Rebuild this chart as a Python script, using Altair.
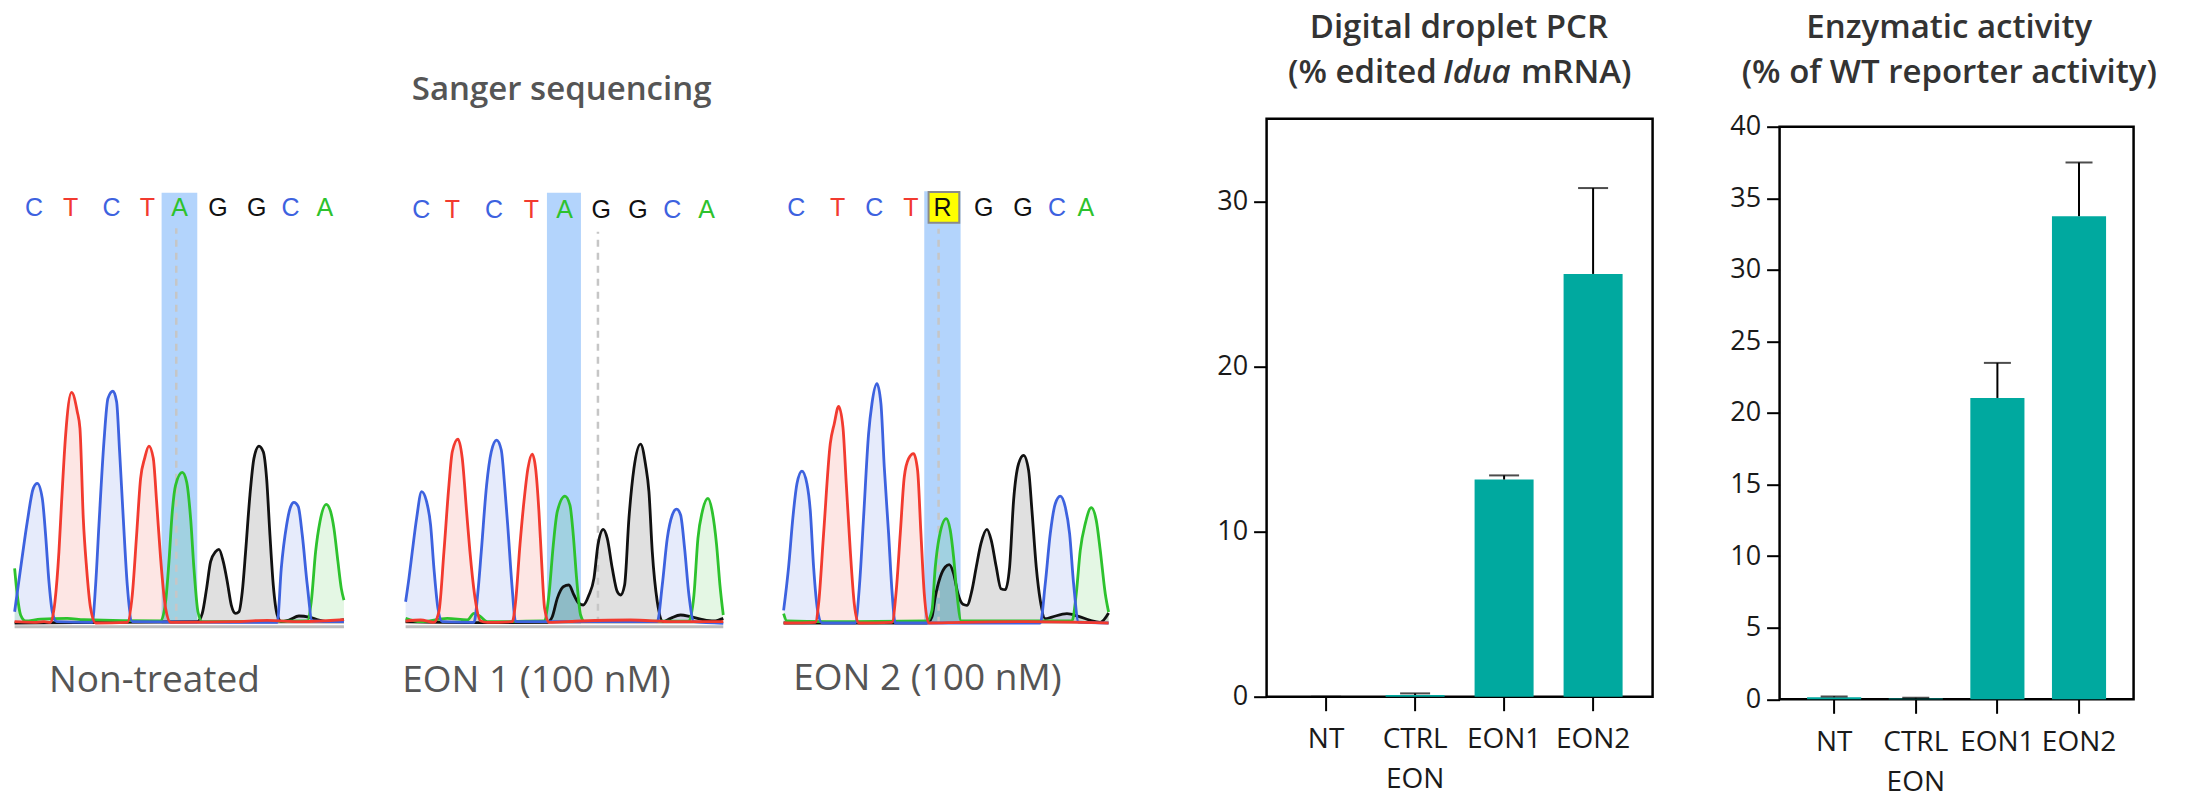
import altair as alt
import pandas as pd

# ---------------- bar chart data ----------------
CATS = ["NT", "CTRL EON", "EON1", "EON2"]
DDPCR_MEAN = [0.0, 0.1, 13.15, 25.6]
DDPCR_UPPER = [0.0, 0.2, 13.4, 30.8]
ENZ_MEAN = [0.15, 0.05, 21.05, 33.75]
ENZ_UPPER = [0.2, 0.1, 23.5, 37.5]
DDPCR_TICKS = [0, 10, 20, 30]
ENZ_TICKS = [0, 5, 10, 15, 20, 25, 30, 35, 40]

TITLE_DDPCR_1 = ["Digital droplet PCR"]
TITLE_DDPCR_2A = ["(% edited"]
TITLE_DDPCR_2B = ["Idua"]
TITLE_DDPCR_2C = ["mRNA)"]
TITLE_ENZ_1 = ["Enzymatic activity"]
TITLE_ENZ_2 = ["(% of WT reporter activity)"]
SANGER_TITLE = ["Sanger sequencing"]
CAPTIONS = ["Non-treated", "EON 1 (100 nM)", "EON 2 (100 nM)"]

# ---------------- chromatogram data (scan position, signal) ----------------
BASES = ["A", "C", "G", "T", "R"]
BASE_COLORS = ["#2DC22D", "#3D62DF", "#111111", "#F23A2F", "#111111"]

P1_A = [(0,166),(8,86),(18,26),(33,8),(78,14),(158,16),(208,12),(438,8),(453,66),(463,186),(473,336),(483,416),(503,454),(516,426),(528,316),(538,166),(550,36),(563,6),(878,8),(890,66),(903,216),(916,306),(935,358),(948,336),(958,286),(970,186),(980,106),(988,71)]
P1_C = [(0,36),(18,166),(38,306),(56,406),(68,421),(83,376),(93,266),(103,126),(113,36),(126,6),(233,4),(243,116),(253,296),(268,546),(280,676),(295,698),(306,666),(315,516),(326,316),(338,116),(353,6),(788,4),(800,166),(816,296),(828,351),(838,364),(851,351),(863,266),(878,116),(893,8),(988,6)]
P1_G = [(0,2),(548,6),(563,31),(576,106),(588,186),(603,216),(613,223),(626,186),(638,126),(650,56),(663,31),(673,36),(683,96),(693,216),(706,386),(718,496),(733,533),(746,516),(756,436),(766,266),(776,116),(788,26),(800,6),(823,11),(853,23),(883,20),(913,11),(948,6),(988,12)]
P1_T = [(0,6),(58,4),(88,6),(108,4),(121,66),(133,216),(141,366),(153,566),(171,694),(188,636),(196,586),(206,316),(216,166),(228,46),(243,2),(338,4),(353,86),(366,266),(378,436),(390,496),(403,533),(416,496),(426,366),(438,196),(453,46),(468,4),(658,6),(758,10),(858,6),(988,12)]

P2_A = [(0,16),(45,6),(125,16),(185,11),(205,31),(225,21),(245,6),(415,8),(430,86),(443,236),(455,336),(478,383),(493,356),(503,266),(513,136),(525,26),(537,6),(850,8),(865,86),(877,256),(890,336),(907,376),(920,336),(933,236),(943,116),(953,26)]
P2_C = [(0,66),(10,136),(20,216),(33,316),(48,396),(63,366),(75,296),(85,166),(97,46),(110,6),(205,4),(217,96),(227,216),(243,416),(257,516),(273,551),(287,521),(297,416),(307,286),(319,116),(330,6),(755,6),(770,116),(785,256),(800,326),(813,344),(825,326),(837,226),(850,86),(865,6),(953,1)]
P2_G = [(0,6),(225,3),(425,4),(440,21),(455,76),(473,111),(490,116),(505,86),(520,61),(533,56),(550,86),(565,136),(577,236),(593,283),(605,256),(620,166),(635,96),(645,86),(657,116),(670,316),(685,466),(705,539),(720,476),(730,396),(740,216),(755,66),(773,6),(795,16),(825,26),(855,21),(885,14),(925,8),(953,16)]
P2_T = [(0,8),(45,11),(85,4),(100,36),(115,216),(130,416),(140,516),(157,554),(170,496),(183,336),(193,216),(207,86),(225,8),(245,4),(320,6),(330,66),(343,236),(355,366),(367,466),(380,509),(390,466),(400,336),(408,186),(417,46),(430,4),(525,8),(675,11),(805,6),(953,6)]

P3_A = [(0,30),(10,8),(130,6),(430,8),(445,40),(455,170),(467,260),(488,315),(500,280),(510,200),(520,90),(533,8),(865,8),(878,90),(890,220),(905,300),(923,348),(938,310),(950,220),(965,90),(975,35)]
P3_C = [(0,40),(15,170),(28,320),(40,420),(55,458),(70,420),(80,340),(90,170),(102,40),(115,2),(215,2),(228,120),(240,320),(255,570),(265,660),(280,720),(292,660),(302,470),(315,270),(325,100),(335,2),(770,2),(785,120),(800,270),(815,360),(830,383),(845,350),(858,270),(870,120),(885,5),(975,2)]
P3_G = [(0,2),(430,2),(445,20),(455,80),(470,140),(485,170),(497,177),(510,150),(523,90),(538,58),(550,55),(565,100),(578,170),(592,240),(610,283),(623,250),(638,170),(652,105),(665,102),(678,170),(690,370),(705,480),(720,505),(735,460),(745,340),(758,170),(770,70),(785,15),(805,20),(850,30),(885,22),(920,10),(950,4),(975,32)]
P3_T = [(0,2),(95,4),(105,60),(120,270),(140,540),(152,600),(165,652),(178,590),(188,420),(200,220),(212,60),(225,2),(325,4),(338,100),(350,270),(362,440),(375,495),(390,510),(402,460),(412,270),(422,90),(435,2),(530,4),(730,6),(975,2)]

P1_SEQ = list("CTCTAGGCA")
P1_POS = [58, 168, 291, 398, 495, 610, 726, 828, 931]
P2_SEQ = list("CTCTAGGCA")
P2_POS = [47, 140, 265, 377, 477, 587, 697, 800, 903]
P3_SEQ = list("CTCTRGGCA")
P3_POS = [38, 162, 272, 382, 477, 600, 718, 820, 907]
SEQ_SIGNAL = [1246, 1241, 1248]

HIGHLIGHT = [(441, 548, 1293), (424, 526, 1293), (422, 531, 1297)]
DASHED = [(485, 1186), (577, 1176), (465, 1185)]
CAPTION_POS = [(103, -204), (-10, -204), (29, -200)]
BASELINE_END = [988, 953, None]
AMBIG_BOX = (435, 527, 1203, 1295)
SANGER_POS = (468, 1571)

PANEL_WIDTHS = [391, 378, 482.6]
PANEL_HEIGHT = 578
SIGNAL_DOMAIN = [-219, 1515]

FONT = "Open Sans"
TEAL = "#00A99F"


def trace_frame(traces):
    rows = []
    for base in ["G", "A", "C", "T"]:
        for x, s in traces[base]:
            rows.append({"x": x, "s": s, "base": base})
    return pd.DataFrame(rows)


def chromatogram(i, traces, seq, pos):
    width = PANEL_WIDTHS[i]
    xs = alt.Scale(domain=[0, width * 3], nice=False, zero=False)
    ys = alt.Scale(domain=SIGNAL_DOMAIN, nice=False, zero=False)
    cs = alt.Scale(domain=BASES, range=BASE_COLORS)
    X = lambda f: alt.X(f, scale=xs, axis=None, title=None)
    Y = lambda f: alt.Y(f, scale=ys, axis=None, title=None, stack=None)

    tdf = trace_frame(traces)
    hx1, hx2, htop = HIGHLIGHT[i]
    band = alt.Chart(pd.DataFrame({"x": [hx1], "xe": [hx2], "s": [0], "se": [htop]})).mark_rect(
        color="#B3D4FC").encode(x=X("x:Q"), x2="xe:Q", y=Y("s:Q"), y2="se:Q")
    layers = [band]
    if BASELINE_END[i] is not None:
        layers.append(alt.Chart(pd.DataFrame({"x": [0], "xe": [BASELINE_END[i]], "s": [-9]})).mark_rule(
            color="#BDBDBD", strokeWidth=3).encode(x=X("x:Q"), x2="xe:Q", y=Y("s:Q")))
    area = alt.Chart(tdf).mark_area(opacity=0.13, interpolate="monotone").encode(
        x=X("x:Q"), y=Y("s:Q"), y2=alt.datum(0),
        color=alt.Color("base:N", scale=cs, legend=None))
    dx, dtop = DASHED[i]
    dash = alt.Chart(pd.DataFrame({"x": [dx], "s": [0], "se": [dtop]})).mark_rule(
        color="#C6C6C6", strokeWidth=2.5, strokeDash=[7, 6]).encode(x=X("x:Q"), y=Y("s:Q"), y2="se:Q")
    line = alt.Chart(tdf).mark_line(strokeWidth=2.8, interpolate="monotone", strokeJoin="round").encode(
        x=X("x:Q"), y=Y("s:Q"), color=alt.Color("base:N", scale=cs, legend=None))
    layers += [area, dash, line]
    if i == 2:
        bx1, bx2, by1, by2 = AMBIG_BOX
        layers.append(alt.Chart(pd.DataFrame({"x": [bx1], "xe": [bx2], "s": [by1], "se": [by2]})).mark_rect(
            fill="#FFFF00", stroke="#8A8A8A", strokeWidth=2).encode(x=X("x:Q"), x2="xe:Q", y=Y("s:Q"), y2="se:Q"))
    letters = alt.Chart(pd.DataFrame({"x": pos, "s": [SEQ_SIGNAL[i]] * len(pos), "base": seq})).mark_text(
        font="Liberation Sans", fontSize=25, align="center", baseline="middle").encode(
        x=X("x:Q"), y=Y("s:Q"), text="base:N", color=alt.Color("base:N", scale=cs, legend=None))
    cx, cy = CAPTION_POS[i]
    caption = alt.Chart(pd.DataFrame({"x": [cx], "s": [cy], "t": [CAPTIONS[i]]})).mark_text(
        font=FONT, fontSize=37, color="#555555", align="left", baseline="alphabetic").encode(
        x=X("x:Q"), y=Y("s:Q"), text="t:N")
    layers += [letters, caption]
    if i == 1:
        sx, sy = SANGER_POS
        layers.append(alt.Chart(pd.DataFrame({"x": [sx], "s": [sy], "t": SANGER_TITLE})).mark_text(
            font=FONT, fontSize=33, fontWeight=600, color="#555555", align="center", baseline="alphabetic").encode(
            x=X("x:Q"), y=Y("s:Q"), text="t:N"))
    return alt.layer(*layers).properties(width=width, height=PANEL_HEIGHT)


def text_layer(lines, x, y, align="center", style="normal"):
    return alt.Chart(pd.DataFrame({"t": lines})).mark_text(
        font=FONT, fontSize=33, fontWeight=600, fontStyle=style, color="#333333",
        align=align, baseline="alphabetic").encode(text="t:N", x=alt.value(x), y=alt.value(y))


def barchart(means, uppers, domain, ticks, width, height, cap, titles):
    df = pd.DataFrame({"cat": CATS, "mean": means, "upper": uppers})
    x = alt.X("cat:N", sort=CATS, title=None,
              scale=alt.Scale(paddingInner=0.337, paddingOuter=0.337),
              axis=alt.Axis(labelAngle=0, domain=False, tickColor="black", tickWidth=2, tickSize=14,
                            labelPadding=15, labelFont=FONT, labelFontSize=28, labelColor="#1a1a1a",
                            labelLineHeight=40, labelOverlap=False, labelBound=False, labelFlush=False,
                            labelExpr="datum.label == 'CTRL EON' ? ['CTRL', 'EON'] : datum.label"))
    ysc = alt.Scale(domain=domain, nice=False, zero=True)
    yax = alt.Axis(values=ticks, domain=False, grid=False, tickColor="black", tickWidth=2, tickSize=13,
                   labelPadding=6, labelFont=FONT, labelFontSize=27, labelColor="#1a1a1a")
    bars = alt.Chart(df).mark_bar(color=TEAL).encode(
        x=x, y=alt.Y("mean:Q", scale=ysc, axis=yax, title=None))
    rule = alt.Chart(df).mark_rule(color="black", strokeWidth=2).encode(
        x=x, y=alt.Y("mean:Q", scale=ysc, axis=yax, title=None), y2="upper:Q")
    caps = alt.Chart(df).mark_tick(color="black", thickness=2, size=cap).encode(
        x=x, y=alt.Y("upper:Q", scale=ysc, axis=yax, title=None))
    return alt.layer(bars, rule, caps, *titles).properties(
        width=width, height=height,
        view=alt.ViewBackground(stroke="black", strokeWidth=2.5))


def blank(width, height):
    return alt.Chart(pd.DataFrame({"v": [0]})).mark_point(opacity=0, size=1).encode(
        x=alt.value(1), y=alt.value(1)).properties(width=width, height=height)


panels = [
    chromatogram(0, {"A": P1_A, "C": P1_C, "G": P1_G, "T": P1_T}, P1_SEQ, P1_POS),
    chromatogram(1, {"A": P2_A, "C": P2_C, "G": P2_G, "T": P2_T}, P2_SEQ, P2_POS),
    chromatogram(2, {"A": P3_A, "C": P3_C, "G": P3_G, "T": P3_T}, P3_SEQ, P3_POS),
]

ddpcr = barchart(DDPCR_MEAN, DDPCR_UPPER, [0, 35], DDPCR_TICKS, 386, 578, 30, [
    text_layer(TITLE_DDPCR_1, 192.3, -80.3),
    text_layer(TITLE_DDPCR_2A, 170.3, -36, align="right"),
    text_layer(TITLE_DDPCR_2B, 176.3, -36, align="left", style="italic"),
    text_layer(TITLE_DDPCR_2C, 254.3, -36, align="left"),
])

enz = barchart(ENZ_MEAN, ENZ_UPPER, [0, 40], ENZ_TICKS, 354, 572.6, 27, [
    text_layer(TITLE_ENZ_1, 169.7, -88.3),
    text_layer(TITLE_ENZ_2, 169.7, -44),
])
enz_col = alt.vconcat(blank(354, 8), enz, spacing=0, bounds="flush")

chart = alt.hconcat(panels[0], panels[1], panels[2], ddpcr, blank(126.6, 8), enz_col,
                    spacing=0, bounds="flush").properties(
    padding={"left": 4.6, "top": 2.7, "right": 5, "bottom": 5}
).configure(font=FONT).configure_view(stroke="transparent")

chart.save("out.html", embed_options={"renderer": "svg", "actions": False})
